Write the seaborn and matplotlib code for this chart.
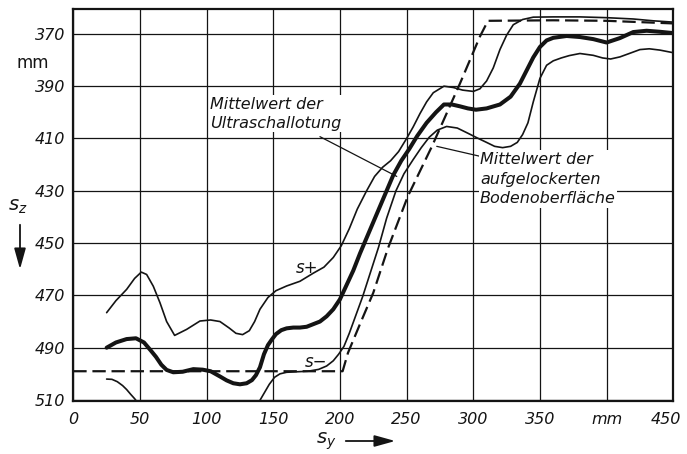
import matplotlib
matplotlib.use("Agg")
import matplotlib.pyplot as plt
import matplotlib.transforms as mtransforms
import pandas as pd
import seaborn as sns

# ---------------- data ----------------
s_plus_x = [25, 32, 40, 46, 51, 55, 60, 65, 70, 76, 85, 95, 103, 110, 117, 122, 127, 132, 136, 140,
            146, 152, 160, 170, 180, 188, 195, 201, 207, 213, 220, 226, 232, 238, 244, 250, 255, 260,
            265, 270, 278, 285, 292, 300, 305, 310, 315, 320, 325, 330, 337, 345, 360, 380, 400, 420,
            435, 450]
s_plus_z = [476.6, 472, 467.7, 463.5, 461.1, 462, 466.5, 472.8, 480, 485.3, 483, 479.8, 479.4, 480,
            482.5, 484.5, 485, 483.5, 480, 475.3, 470.8, 468.2, 466.4, 464.6, 461.5, 459.2, 455.5,
            451, 444.5, 437, 430, 424.5, 421, 418.5, 415, 410, 405.5, 400.5, 396, 392.5, 390, 390.5,
            391.5, 392, 391, 388, 383, 376, 370.5, 366.5, 364.5, 363.6, 363.5, 363.5, 363.8, 364.3,
            365, 365.5]

mean_x = [25, 32, 40, 47, 53, 58, 62, 66, 70, 75, 82, 90, 97, 103, 110, 115, 120, 125, 130, 134,
          137, 140, 143, 146, 149, 152, 156, 160, 165, 170, 175, 180, 185, 190, 195, 200, 205, 210,
          215, 220, 225, 230, 235, 240, 246, 252, 258, 265, 272, 278, 284, 290, 296, 302, 310, 320,
          328, 335, 340, 345, 350, 355, 360, 370, 380, 390, 400, 410, 420, 430, 440, 450]
mean_z = [490, 488, 486.7, 486.4, 488, 491, 493.5, 496.5, 498.5, 499.4, 499.2, 498.2, 498.4, 499,
          501, 502.5, 503.6, 504, 503.6, 502.4, 500.5, 497.5, 492.5, 489, 486.8, 484.8, 483.3,
          482.6, 482.3, 482.3, 482, 481, 480, 478, 475.3, 471.5, 466, 460.5, 454, 448, 442, 436,
          430, 424, 418.5, 414, 409, 404, 400, 397, 397, 397.7, 398.5, 399, 398.5, 397, 394, 389,
          384, 379, 375, 372.5, 371.5, 370.8, 371.2, 372, 373.3, 371.6, 369.3, 368.8, 369.2, 369.7]

s_minus_a_x = [25, 29, 33, 37, 40, 43, 46, 49]
s_minus_a_z = [502, 502.1, 503, 504.5, 506, 507.8, 509.5, 511.5]

s_minus_b_x = [139, 143, 147, 151, 155, 160, 168, 176, 184, 190, 195, 199, 203, 207, 212, 217, 223,
               229, 235, 242, 248, 255, 261, 267, 273, 280, 288, 296, 303, 310, 316, 322, 328, 333,
               337, 341, 345, 350, 355, 360, 366, 372, 380, 390, 397, 403, 410, 417, 425, 432, 440,
               450]
s_minus_b_z = [511, 507.5, 504, 501.3, 500, 499.4, 499.2, 499, 498.3, 497, 495, 492.5, 489.5, 484.5,
               477.5, 470.5, 461, 451.5, 440.5, 430, 423.5, 418, 413.5, 409.5, 406.8, 405.4, 406,
               408, 409.8, 411.5, 413, 413.5, 413, 411.5, 408.5, 404, 396, 387, 382, 380.3, 379.2,
               378.3, 377.5, 378.2, 379.2, 379.6, 378.8, 377.5, 376, 375.7, 376.2, 377.2]

surface_x = [0, 202, 206, 215, 225, 236, 251, 269, 290, 305, 311, 360, 400, 425, 450]
surface_z = [499, 499, 492, 481, 469, 452, 432, 413, 389, 371, 365, 364.8, 365, 365.5, 366]

x_ticks = [0, 50, 100, 150, 200, 250, 300, 350, 400, 450]
x_tick_labels = ["0", "50", "100", "150", "200", "250", "300", "350", "mm", "450"]
y_ticks = [370, 390, 410, 430, 450, 470, 490, 510]
y_tick_labels = ["370", "390", "410", "430", "450", "470", "490", "510"]

label_ultra = "Mittelwert der\nUltraschallotung"
label_surface = "Mittelwert der\naufgelockerten\nBodenoberfläche"

# ---------------- style ----------------
sns.set_style("white")
plt.rcParams["font.family"] = ["DejaVu Sans"]
plt.rcParams["mathtext.fontset"] = "dejavusans"

INK = "#141414"

fig = plt.figure(figsize=(6.87, 4.54), dpi=100)
ax = fig.add_axes([0.1067, 0.1178, 0.8733, 0.8617])

def draw(xs, zs, lw, **kw):
    df = pd.DataFrame({"x": xs, "z": zs})
    sns.lineplot(data=df, x="x", y="z", ax=ax, sort=False, estimator=None,
                 color=INK, linewidth=lw, solid_capstyle="round", **kw)

draw(surface_x, surface_z, 1.6, linestyle=(0, (6, 2.6)))
draw(s_plus_x, s_plus_z, 1.2)
draw(s_minus_a_x, s_minus_a_z, 1.2)
draw(s_minus_b_x, s_minus_b_z, 1.2)
draw(mean_x, mean_z, 2.9)

ax.set_xlim(0, 450)
ax.set_ylim(510.2, 360.6)

ax.set_xticks(x_ticks)
ax.set_xticklabels(x_tick_labels, fontsize=11.5, fontstyle="italic")
ax.set_yticks(y_ticks)
ax.set_yticklabels(y_tick_labels, fontsize=11.5, fontstyle="italic")
ax.tick_params(axis="both", length=0, colors=INK)
ax.tick_params(axis="x", pad=8)
ax.tick_params(axis="y", pad=6)
ax.grid(True, color=INK, linewidth=0.9)
ax.set_axisbelow(True)
for sp in ax.spines.values():
    sp.set_color(INK)
    sp.set_linewidth(1.6)
ax.set_xlabel("")
ax.set_ylabel("")

# pull the last x tick label slightly inwards so it stays inside the figure
last = ax.get_xticklabels()[-1]
last.set_transform(last.get_transform() +
                   mtransforms.ScaledTranslation(-5 / 72, 0, fig.dpi_scale_trans))

# annotations
ax.text(102.5, 400.6, label_ultra, fontsize=11.5, fontstyle="italic", color=INK,
        ha="left", va="center", linespacing=1.35,
        bbox=dict(facecolor="white", edgecolor="none", pad=1.0), zorder=5)
ax.plot([185, 242.6], [409.3, 424.5], color=INK, lw=0.9, zorder=4)

ax.text(305, 425.5, label_surface, fontsize=11.5, fontstyle="italic", color=INK,
        ha="left", va="center", linespacing=1.4,
        bbox=dict(facecolor="white", edgecolor="none", pad=1.0), zorder=5)
ax.plot([272.6, 305], [413, 416.8], color=INK, lw=0.9, zorder=4)

ax.text(175, 459.4, "s+", fontsize=12, fontstyle="italic", color=INK, ha="center", va="center")
ax.text(182, 495.5, "s\u2212", fontsize=12, fontstyle="italic", color=INK, ha="center", va="center")

# unit on y axis
fig.text(33 / 687, 1 - 63 / 454, "mm", fontsize=12, color=INK, ha="center", va="center")

# axis labels with arrows
fig.text(18 / 687, 1 - 207 / 454, r"$s_z$", fontsize=14, color=INK, ha="center", va="center")
fig.add_artist(matplotlib.patches.FancyArrowPatch(
    (20 / 687, 1 - 222 / 454), (20 / 687, 1 - 272 / 454), transform=fig.transFigure,
    arrowstyle="-|>,head_length=0.9,head_width=0.25", mutation_scale=14, color=INK, lw=1.3))
fig.text(326 / 687, 1 - 441 / 454, r"$s_y$", fontsize=14, color=INK, ha="center", va="center")
fig.add_artist(matplotlib.patches.FancyArrowPatch(
    (343 / 687, 1 - 441 / 454), (398 / 687, 1 - 441 / 454), transform=fig.transFigure,
    arrowstyle="-|>,head_length=0.9,head_width=0.25", mutation_scale=14, color=INK, lw=1.3))

fig.savefig("out.png", dpi=100, facecolor="white")
